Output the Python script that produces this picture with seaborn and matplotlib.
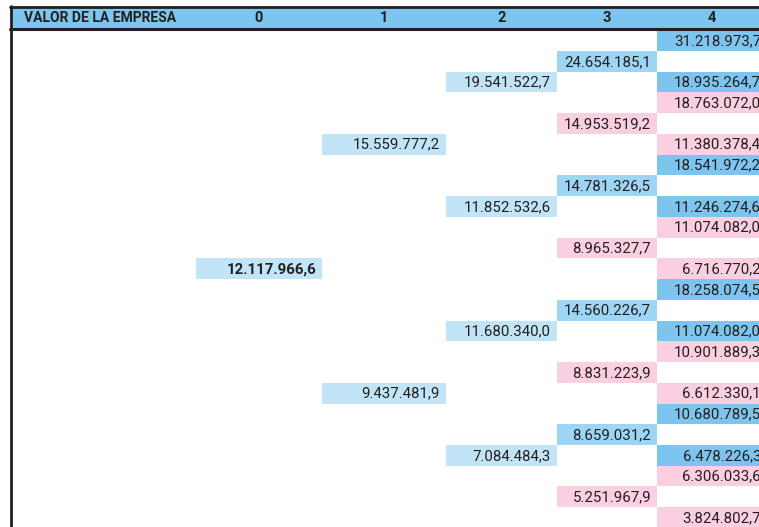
import numpy as np
import seaborn as sns
import matplotlib.pyplot as plt

# node values per period of the tree (top to bottom)
periodos = ['0', '1', '2', '3', '4']
v0 = [12117966.6]
v1 = [15559777.2, 9437481.9]
v2 = [19541522.7, 11852532.6, 11680340.0, 7084484.3]
v3 = [24654185.1, 14953519.2, 14781326.5, 8965327.7,
      14560226.7, 8831223.9, 8659031.2, 5251967.9]
v4 = [31218973.7, 18935264.7, 18763072.0, 11380378.4,
      18541972.2, 11246274.6, 11074082.0, 6716770.2,
      18258074.5, 11074082.0, 10901889.3, 6612330.1,
      10680789.5, 6478226.3, 6306033.6, 3824802.7]
titulo = 'VALOR DE LA EMPRESA'

# layout (pixels)
W, H = 759, 527
col_edges = [196, 322, 446, 557, 657, 767]
row0, pitch = 30.2, 20.74

c_head = '#7bc5ee'
c_up4 = '#7dc5ef'
c_up3 = '#9dd5f4'
c_light = '#c2e4f7'
c_down = '#f9cfe1'
c_text = '#231f20'


def fmt(v):
    s = f'{v:,.1f}'
    return s.replace(',', 'X').replace('.', ',').replace('X', '.')


# row index of each node, built from the tree shape
rows = {0: [11]}
offs = {1: (-6, 6), 2: (-3, 3), 3: (-1, 2), 4: (-1, 1)}
for k in range(1, 5):
    rows[k] = [r + d for r in rows[k - 1] for d in offs[k]]

vals = {0: v0, 1: v1, 2: v2, 3: v3, 4: v4}
colors = {0: [c_light], 1: [c_light] * 2, 2: [c_light] * 4,
          3: [c_up3 if i % 2 == 0 else c_down for i in range(8)],
          4: [c_up4 if (i // 2) % 2 == 0 else c_down for i in range(16)]}

sns.set_theme(style='white')
plt.rcParams['font.family'] = ['Roboto', 'DejaVu Sans']

fig = plt.figure(figsize=(W / 100, H / 100), dpi=100)
ax = fig.add_axes([0, 0, 1, 1])
ax.set_xlim(0, W)
ax.set_ylim(H, 0)
ax.axis('off')

for k in range(5):
    left = col_edges[k]
    width = col_edges[k + 1] - left
    ys = [row0 + r * pitch + pitch / 2 for r in rows[k]]
    ax.barh(ys, width, height=pitch, left=left, color=colors[k],
            edgecolor='none')
    for y, v in zip(ys, vals[k]):
        ax.text(left + width - 6, y + 0.5, fmt(v), ha='right', va='center',
                fontsize=10.8, color=c_text,
                fontweight='bold' if k == 0 else 'normal')

# header band
ax.barh([18], W - 12, height=20, left=12, color=c_head, edgecolor='none')
ax.plot([10, W], [7, 7], color='#231f20', lw=2)
ax.plot([10, W], [29.2, 29.2], color='#231f20', lw=2.2)
ax.plot([11.3, 11.3], [6, H], color='#231f20', lw=2)
ax.text(24, 18.5, titulo, ha='left', va='center', fontsize=10,
        fontweight='bold', color=c_text, fontstretch='condensed')
for k, p in enumerate(periodos):
    cx = (col_edges[k] + col_edges[k + 1]) / 2
    ax.text(cx, 18.5, p, ha='center', va='center', fontsize=10.5,
            fontweight='bold', color=c_text)

plt.savefig('out.png', dpi=100)
